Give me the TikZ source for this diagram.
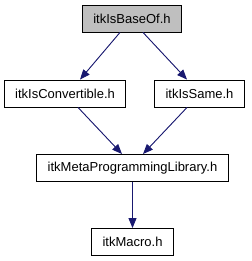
\documentclass[tikz,border=0pt]{standalone}
\usepackage{fontspec}
\setmainfont{Liberation Sans}
\usepackage{xcolor}
\usepackage{tikz}
\usetikzlibrary{arrows.meta}
\definecolor{edgeblue}{RGB}{25,25,112}
\definecolor{basegray}{RGB}{191,191,191}

\begin{document}
\begin{tikzpicture}[x=1pt,y=1pt,
    filebox/.style={draw, line width=0.9pt, fill=white, inner xsep=11pt, inner ysep=0pt,
        minimum height=27pt, font=\fontsize{13}{15}\selectfont},
    dep/.style={-{Triangle[length=10pt,width=8pt]}, draw=edgeblue, fill=edgeblue, line width=0.9pt}]
    \useasboundingbox (0,0) rectangle (251,261);

    % Include files
    \node[filebox, fill=basegray] (base) at (132,242.5) {itkIsBaseOf.h};
    \node[filebox] (conv) at (65,167.5) {itkIsConvertible.h};
    \node[filebox] (same) at (199.5,167.5) {itkIsSame.h};
    \node[filebox] (mpl) at (132.5,93) {itkMetaProgrammingLibrary.h};
    \node[filebox] (macro) at (132.5,19) {itkMacro.h};

    % Dependencies
    \draw[dep] ([xshift=-12pt]base.south) -- ([xshift=15pt]conv.north);
    \draw[dep] ([xshift=11pt]base.south) -- ([xshift=-12.5pt]same.north);
    \draw[dep] ([xshift=13pt]conv.south) -- ([xshift=-10.5pt]mpl.north);
    \draw[dep] ([xshift=-12.5pt]same.south) -- ([xshift=10.5pt]mpl.north);
    \draw[dep] (mpl.south) -- (macro.north);
\end{tikzpicture}
\end{document}
